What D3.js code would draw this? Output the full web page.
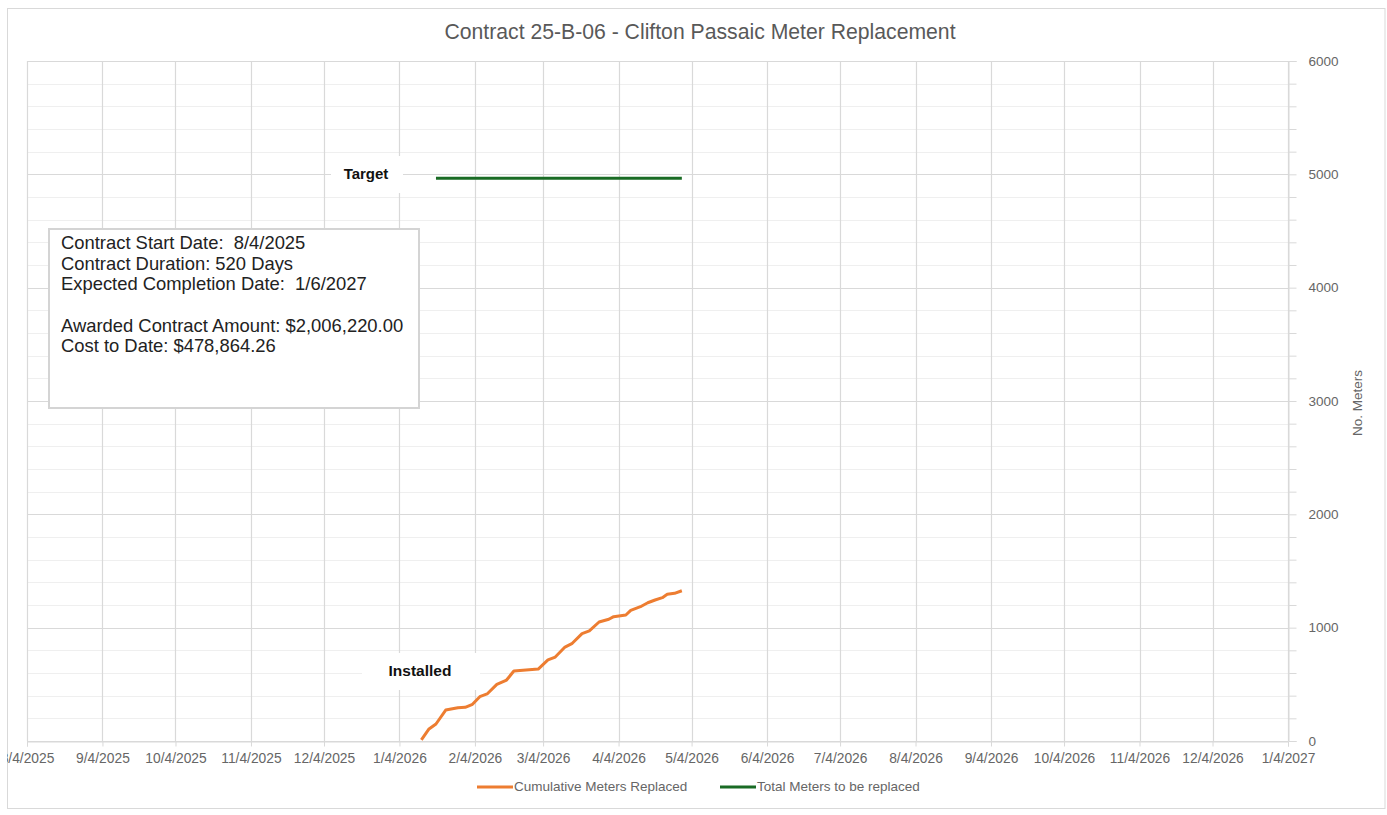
<!DOCTYPE html>
<html>
<head>
<meta charset="utf-8">
<script src="https://cdn.jsdelivr.net/npm/d3@7"></script>
<style>
  html, body { margin: 0; padding: 0; background: #ffffff; }
  svg { display: block; }
  text { font-family: "Liberation Sans", Arial, sans-serif; white-space: pre; }
</style>
</head>
<body>
<svg id="chart" width="1387" height="815"></svg>
<script>
// ---------------- Data ----------------
const chartTitle = "Contract 25-B-06 - Clifton Passaic Meter Replacement";
const xTickLabels = ["8/4/2025","9/4/2025","10/4/2025","11/4/2025","12/4/2025","1/4/2026",
  "2/4/2026","3/4/2026","4/4/2026","5/4/2026","6/4/2026","7/4/2026","8/4/2026",
  "9/4/2026","10/4/2026","11/4/2026","12/4/2026","1/4/2027"];
const yTickValues = [0, 1000, 2000, 3000, 4000, 5000, 6000];

const installedDates = ["1/13/2026","1/16/2026","1/19/2026","1/23/2026","1/28/2026","1/31/2026",
  "2/3/2026","2/6/2026","2/9/2026","2/13/2026","2/17/2026","2/20/2026","3/2/2026","3/6/2026",
  "3/9/2026","3/13/2026","3/16/2026","3/20/2026","3/23/2026","3/27/2026","3/31/2026","4/2/2026",
  "4/7/2026","4/9/2026","4/13/2026","4/16/2026","4/19/2026","4/22/2026","4/24/2026","4/27/2026","4/30/2026"];
const installedValues = [10,103,150,273,294,297,324,391,415,500,538,618,635,715,741,829,862,
  947,971,1050,1074,1097,1112,1153,1185,1220,1244,1265,1294,1303,1326];

const targetDates = ["1/19/2026","4/30/2026"];
const targetValues = [4965, 4965];

const seriesNames = ["Cumulative Meters Replaced", "Total Meters to be replaced"];
const seriesColors = ["#ED7D31", "#196B24"];
const infoLines = ["Contract Start Date:  8/4/2025", "Contract Duration: 520 Days",
  "Expected Completion Date:  1/6/2027", "", "Awarded Contract Amount: $2,006,220.00",
  "Cost to Date: $478,864.26"];
const yAxisTitle = "No. Meters";

// ---------------- Drawing ----------------
(function () {
const parse = d3.utcParse("%m/%d/%Y");
const fmt = d3.utcFormat("%-m/%-d/%Y");
const svg = d3.select("#chart");

svg.append("defs").append("clipPath").attr("id", "area")
  .append("rect").attr("x", 7).attr("y", 8).attr("width", 1380).attr("height", 802);

const root = svg.append("g").attr("clip-path", "url(#area)");
root.append("rect").attr("x", 7.5).attr("y", 8.5).attr("width", 1377.5).attr("height", 800)
  .attr("fill", "#fff").attr("stroke", "#d9d9d9").attr("stroke-width", 1);

const pLeft = 27, pRight = 1288, pTop = 61, pBottom = 741;
const xTicks = xTickLabels.map(parse);
const x = d3.scaleUtc().domain([xTicks[0], xTicks[xTicks.length - 1]]).range([pLeft, pRight]);
const y = d3.scaleLinear().domain([0, 6000]).range([pBottom, pTop]);

const minor = d3.range(0, 6001, 200);
root.append("g").selectAll("line").data(minor.filter(v => v % 1000 !== 0)).join("line")
  .attr("x1", pLeft).attr("x2", pRight)
  .attr("y1", d => Math.round(y(d)) + 0.5).attr("y2", d => Math.round(y(d)) + 0.5)
  .attr("stroke", "#efefef").attr("stroke-width", 1);
root.append("g").selectAll("line").data(yTickValues).join("line")
  .attr("x1", pLeft).attr("x2", pRight)
  .attr("y1", d => Math.round(y(d)) + 0.5).attr("y2", d => Math.round(y(d)) + 0.5)
  .attr("stroke", "#d9d9d9").attr("stroke-width", 1);
root.append("g").selectAll("line").data(xTicks).join("line")
  .attr("x1", d => Math.round(x(d)) + 0.5).attr("x2", d => Math.round(x(d)) + 0.5)
  .attr("y1", pTop).attr("y2", pBottom)
  .attr("stroke", "#d9d9d9").attr("stroke-width", 1.2);

const xAxis = root.append("g").attr("transform", `translate(0,${pBottom + 0.5})`)
  .call(d3.axisBottom(x).tickValues(xTicks).tickFormat(fmt).tickSize(5).tickPadding(7));
xAxis.select(".domain").attr("stroke", "#d9d9d9");
xAxis.selectAll(".tick line").attr("stroke", "#d9d9d9");
xAxis.selectAll("text").attr("fill", "#666").attr("font-size", 13.8)
  .attr("font-family", "'Liberation Sans', Arial, sans-serif");

const yAxis = root.append("g").attr("transform", `translate(${pRight + 0.5},0)`)
  .call(d3.axisRight(y).tickValues(minor).tickSize(8).tickPadding(12)
    .tickFormat(d => d % 1000 === 0 ? d : ""));
yAxis.select(".domain").attr("stroke", "#d9d9d9");
yAxis.selectAll(".tick line").attr("stroke", "#d9d9d9");
yAxis.selectAll("text").attr("fill", "#666").attr("font-size", 13.5)
  .attr("font-family", "'Liberation Sans', Arial, sans-serif");

root.append("text").attr("transform", "translate(1358,403) rotate(-90)")
  .attr("text-anchor", "middle").attr("dominant-baseline", "middle")
  .attr("font-family", "'Liberation Sans Narrow', 'Liberation Sans', Arial, sans-serif")
  .attr("font-size", 13.5).attr("fill", "#666").text(yAxisTitle);

root.append("text").attr("x", 700).attr("y", 33).attr("text-anchor", "middle")
  .attr("dominant-baseline", "middle").attr("font-size", 21.2).attr("fill", "#595959")
  .text(chartTitle);

root.append("rect").attr("x", 331).attr("y", 156).attr("width", 72).attr("height", 37).attr("fill", "#fff");
root.append("rect").attr("x", 362).attr("y", 653).attr("width", 118).attr("height", 37).attr("fill", "#fff");

const line = d3.line().x(d => x(d[0])).y(d => y(d[1]));
const installed = installedDates.map((d, i) => [parse(d), installedValues[i]]);
const target = targetDates.map((d, i) => [parse(d), targetValues[i]]);
root.append("path").datum(installed).attr("d", line).attr("fill", "none")
  .attr("stroke", seriesColors[0]).attr("stroke-width", 3).attr("stroke-linejoin", "round");
root.append("path").datum(target).attr("d", line).attr("fill", "none")
  .attr("stroke", seriesColors[1]).attr("stroke-width", 3);

root.append("text").attr("x", 366).attr("y", 175).attr("text-anchor", "middle")
  .attr("dominant-baseline", "middle").attr("font-weight", "bold").attr("font-size", 15)
  .attr("fill", "#111").text("Target");
root.append("text").attr("x", 420).attr("y", 672).attr("text-anchor", "middle")
  .attr("dominant-baseline", "middle").attr("font-weight", "bold").attr("font-size", 15.5)
  .attr("fill", "#111").text("Installed");

root.append("rect").attr("x", 49).attr("y", 229).attr("width", 370).attr("height", 179)
  .attr("fill", "#fff").attr("stroke", "#d4d4d4").attr("stroke-width", 2);
root.append("g").selectAll("text").data(infoLines).join("text")
  .attr("x", 61).attr("y", (d, i) => 244 + i * 20.7)
  .attr("dominant-baseline", "middle").attr("font-size", 18.4).attr("fill", "#222")
  .text(d => d);

const legendItems = [{x: 477, name: seriesNames[0], color: seriesColors[0]},
                     {x: 720, name: seriesNames[1], color: seriesColors[1]}];
const lg = root.append("g").selectAll("g").data(legendItems).join("g");
lg.append("line").attr("x1", d => d.x).attr("x2", d => d.x + 36)
  .attr("y1", 787).attr("y2", 787).attr("stroke", d => d.color).attr("stroke-width", 3);
lg.append("text").attr("x", d => d.x + 37).attr("y", 787).attr("dominant-baseline", "middle")
  .attr("font-size", 13.5).attr("fill", "#666").text(d => d.name);
})();
</script>
</body>
</html>
